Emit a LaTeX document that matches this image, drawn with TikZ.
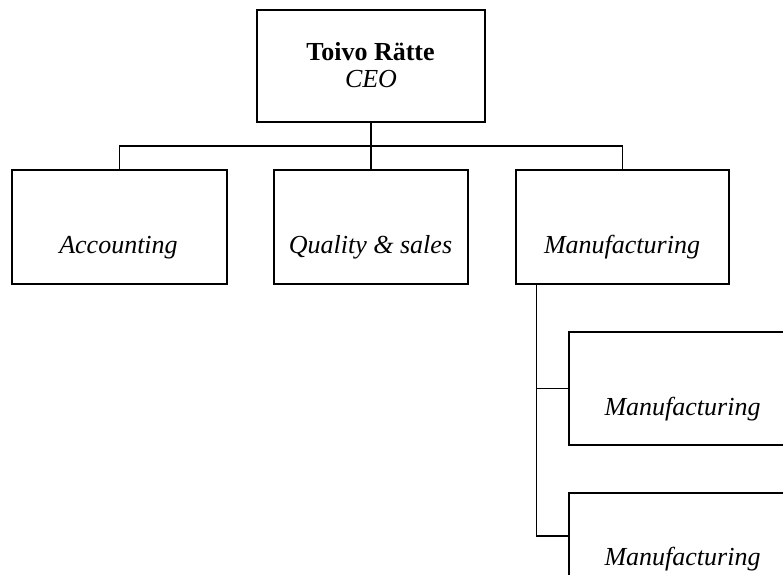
\documentclass[tikz,border=0pt]{standalone}
\usepackage{fontspec}
\setmainfont{Liberation Serif}
\tikzset{
  unit/.style={draw,line width=1.5pt,inner sep=0pt,minimum height=114pt},
  txt/.style={anchor=base,inner sep=0pt,font=\fontsize{26}{28}\selectfont\itshape},
  link/.style={line width=1.5pt},
}
\begin{document}
\begin{tikzpicture}[x=1pt,y=-1pt]
  \useasboundingbox (0,0) rectangle (783,574);
  \clip (0,0) rectangle (783,574);
  % top box
  \node[unit,minimum width=228pt,minimum height=112pt] (ceo) at (371,66) {};
  \node[txt,font=\fontsize{26}{28}\selectfont\bfseries] (ceoname) at (370.5,60) {Toivo Rätte};
  \node[txt] (ceotitle) at (371,87) {CEO};
  % departments
  \node[unit,minimum width=215pt] (acc) at (119.5,227) {};
  \node[txt] (acctxt) at (118.5,253) {Accounting};
  \node[unit,minimum width=194pt] (qual) at (371,227) {};
  \node[txt] (qualtxt) at (370.5,253) {Quality \& sales};
  \node[unit,minimum width=213pt] (man) at (622.5,227) {};
  \node[txt] (mantxt) at (622,253) {Manufacturing};
  % under manufacturing
  \node[unit,minimum width=227pt,minimum height=113pt] (subA) at (682.5,388.5) {};
  \node[txt] (subAtxt) at (682.5,415) {Manufacturing};
  \node[unit,minimum width=227pt,minimum height=86pt] (subB) at (682.5,536) {};
  \node[txt] (subBtxt) at (682.5,565) {Manufacturing};
  % lines
  \coordinate (bar) at (371,146);
  \coordinate (spine) at ([xshift=21pt]man.south west);
  \draw[link] (ceo.south) -- (qual.north);
  \draw[link] (acc.north) |- (bar) -| (man.north);
  \draw[link] (spine) |- (subA.west);
  \draw[link] (spine) |- (subB.west);
\end{tikzpicture}
\end{document}
